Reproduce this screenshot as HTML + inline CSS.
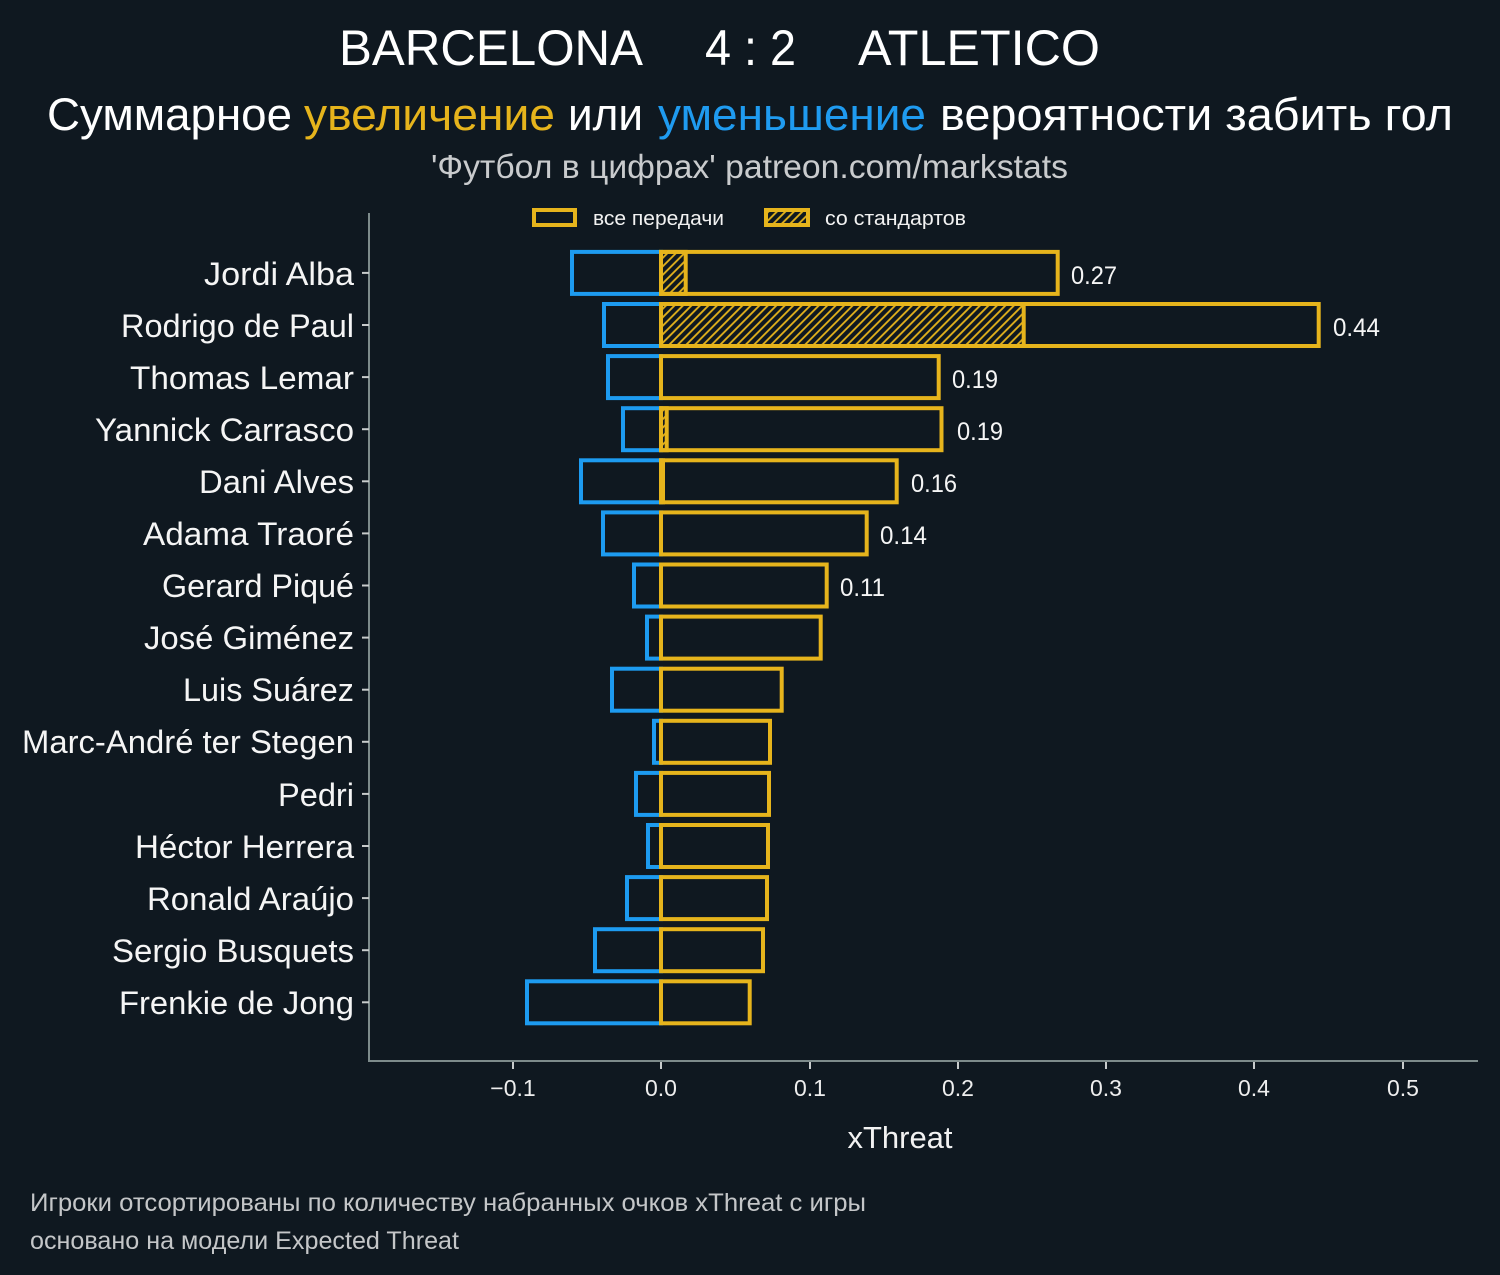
<!DOCTYPE html>
<html><head><meta charset="utf-8"><style>
html,body{margin:0;padding:0;background:#0f1820;}
svg{display:block;font-family:"Liberation Sans","Noto Sans CJK SC",sans-serif;}
</style></head><body>
<svg width="1500" height="1275" viewBox="0 0 1500 1275" xmlns="http://www.w3.org/2000/svg">
<defs>
<pattern id="h" patternUnits="userSpaceOnUse" width="6" height="6" patternTransform="rotate(45)">
<line x1="3" y1="-1" x2="3" y2="7" stroke="#e6b41c" stroke-width="1.8"/>
</pattern>
</defs>
<rect width="1500" height="1275" fill="#0f1820"/>

<!-- titles -->
<text x="339" y="65" font-size="50" fill="#ffffff" textLength="304" lengthAdjust="spacingAndGlyphs">BARCELONA</text>
<text x="705" y="65" font-size="50" fill="#ffffff" textLength="91" lengthAdjust="spacingAndGlyphs">4 : 2</text>
<text x="858" y="65" font-size="50" fill="#ffffff" textLength="242" lengthAdjust="spacingAndGlyphs">ATLETICO</text>

<text x="47" y="130" font-size="45" fill="#ffffff" textLength="245" lengthAdjust="spacingAndGlyphs">Суммарное</text>
<text x="304" y="130" font-size="45" fill="#e6b41c" textLength="251" lengthAdjust="spacingAndGlyphs">увеличение</text>
<text x="568" y="130" font-size="45" fill="#ffffff" textLength="75" lengthAdjust="spacingAndGlyphs">или</text>
<text x="658" y="130" font-size="45" fill="#1f9bf0" textLength="268" lengthAdjust="spacingAndGlyphs">уменьшение</text>
<text x="940" y="130" font-size="45" fill="#ffffff" textLength="513" lengthAdjust="spacingAndGlyphs">вероятности забить гол</text>

<text x="431" y="178" font-size="33" fill="#c9cbcd" textLength="637" lengthAdjust="spacingAndGlyphs">'Футбол в цифрах' patreon.com/markstats</text>

<!-- legend -->
<rect x="534" y="210" width="41" height="15" fill="none" stroke="#e6b41c" stroke-width="4"/>
<text x="593" y="225" font-size="20" fill="#f2f2f2" textLength="131" lengthAdjust="spacingAndGlyphs">все передачи</text>
<rect x="766" y="210" width="42" height="15" fill="url(#h)" stroke="#e6b41c" stroke-width="4"/>
<text x="825" y="225" font-size="20" fill="#f2f2f2" textLength="141" lengthAdjust="spacingAndGlyphs">со стандартов</text>

<!-- axes -->
<line x1="369" y1="213" x2="369" y2="1062" stroke="#7d8b8b" stroke-width="2"/>
<line x1="368" y1="1061" x2="1478" y2="1061" stroke="#7d8b8b" stroke-width="2"/>

<g stroke="#c8cccc" stroke-width="2">
<line x1="513" y1="1062" x2="513" y2="1069"/>
<line x1="661" y1="1062" x2="661" y2="1069"/>
<line x1="810" y1="1062" x2="810" y2="1069"/>
<line x1="958" y1="1062" x2="958" y2="1069"/>
<line x1="1106" y1="1062" x2="1106" y2="1069"/>
<line x1="1254" y1="1062" x2="1254" y2="1069"/>
<line x1="1403" y1="1062" x2="1403" y2="1069"/>
</g>
<g font-size="23" fill="#eeeeee" text-anchor="middle">
<text x="513" y="1096">−0.1</text>
<text x="661" y="1096">0.0</text>
<text x="810" y="1096">0.1</text>
<text x="958" y="1096">0.2</text>
<text x="1106" y="1096">0.3</text>
<text x="1254" y="1096">0.4</text>
<text x="1403" y="1096">0.5</text>
</g>
<text x="900" y="1148" font-size="31" fill="#f2f2f2" text-anchor="middle">xThreat</text>

<!-- y ticks -->
<g stroke="#c8cccc" stroke-width="2">
<line x1="362" y1="272.9" x2="369" y2="272.9"/>
<line x1="362" y1="325.0" x2="369" y2="325.0"/>
<line x1="362" y1="377.1" x2="369" y2="377.1"/>
<line x1="362" y1="429.2" x2="369" y2="429.2"/>
<line x1="362" y1="481.3" x2="369" y2="481.3"/>
<line x1="362" y1="533.4" x2="369" y2="533.4"/>
<line x1="362" y1="585.5" x2="369" y2="585.5"/>
<line x1="362" y1="637.6" x2="369" y2="637.6"/>
<line x1="362" y1="689.7" x2="369" y2="689.7"/>
<line x1="362" y1="741.8" x2="369" y2="741.8"/>
<line x1="362" y1="793.9" x2="369" y2="793.9"/>
<line x1="362" y1="846.0" x2="369" y2="846.0"/>
<line x1="362" y1="898.1" x2="369" y2="898.1"/>
<line x1="362" y1="950.2" x2="369" y2="950.2"/>
<line x1="362" y1="1002.3" x2="369" y2="1002.3"/>
</g>

<g font-size="32" fill="#f5f5f5">
<text x="204" y="285" textLength="150" lengthAdjust="spacingAndGlyphs">Jordi Alba</text>
<text x="121" y="337" textLength="233" lengthAdjust="spacingAndGlyphs">Rodrigo de Paul</text>
<text x="130" y="389" textLength="224" lengthAdjust="spacingAndGlyphs">Thomas Lemar</text>
<text x="95" y="441" textLength="259" lengthAdjust="spacingAndGlyphs">Yannick Carrasco</text>
<text x="199" y="493" textLength="155" lengthAdjust="spacingAndGlyphs">Dani Alves</text>
<text x="143" y="545" textLength="211" lengthAdjust="spacingAndGlyphs">Adama Traoré</text>
<text x="162" y="597" textLength="192" lengthAdjust="spacingAndGlyphs">Gerard Piqué</text>
<text x="144" y="649" textLength="210" lengthAdjust="spacingAndGlyphs">José Giménez</text>
<text x="183" y="701" textLength="171" lengthAdjust="spacingAndGlyphs">Luis Suárez</text>
<text x="22" y="753" textLength="332" lengthAdjust="spacingAndGlyphs">Marc-André ter Stegen</text>
<text x="278" y="806" textLength="76" lengthAdjust="spacingAndGlyphs">Pedri</text>
<text x="135" y="858" textLength="219" lengthAdjust="spacingAndGlyphs">Héctor Herrera</text>
<text x="147" y="910" textLength="207" lengthAdjust="spacingAndGlyphs">Ronald Araújo</text>
<text x="112" y="962" textLength="242" lengthAdjust="spacingAndGlyphs">Sergio Busquets</text>
<text x="119" y="1014" textLength="235" lengthAdjust="spacingAndGlyphs">Frenkie de Jong</text>
</g>

<!-- blue bars -->
<g fill="none" stroke="#1d9bf0" stroke-width="4">
<rect x="572" y="251.9" width="89" height="42"/>
<rect x="604" y="304.0" width="57" height="42"/>
<rect x="608" y="356.1" width="53" height="42"/>
<rect x="623" y="408.2" width="38" height="42"/>
<rect x="581" y="460.3" width="80" height="42"/>
<rect x="603" y="512.4" width="58" height="42"/>
<rect x="634" y="564.5" width="27" height="42"/>
<rect x="647" y="616.6" width="14" height="42"/>
<rect x="612" y="668.7" width="49" height="42"/>
<rect x="654" y="720.8" width="7" height="42"/>
<rect x="636" y="772.9" width="25" height="42"/>
<rect x="648" y="825.0" width="13" height="42"/>
<rect x="627" y="877.1" width="34" height="42"/>
<rect x="595" y="929.2" width="66" height="42"/>
<rect x="527" y="981.3" width="134" height="42"/>
</g>

<!-- hatch bars -->
<g fill="url(#h)" stroke="#e6b41c" stroke-width="4">
<rect x="661" y="251.9" width="24.7" height="42"/>
<rect x="661" y="304.0" width="362.7" height="42"/>
<rect x="661" y="408.2" width="5.7" height="42"/>
<rect x="661" y="460.3" width="2" height="42"/>
</g>

<!-- yellow bars -->
<g fill="none" stroke="#e6b41c" stroke-width="4">
<rect x="661" y="251.9" width="396.7" height="42"/>
<rect x="661" y="304.0" width="657.7" height="42"/>
<rect x="661" y="356.1" width="277.7" height="42"/>
<rect x="661" y="408.2" width="280.5" height="42"/>
<rect x="661" y="460.3" width="235.7" height="42"/>
<rect x="661" y="512.4" width="205.7" height="42"/>
<rect x="661" y="564.5" width="165.7" height="42"/>
<rect x="661" y="616.6" width="159.7" height="42"/>
<rect x="661" y="668.7" width="120.7" height="42"/>
<rect x="661" y="720.8" width="109" height="42"/>
<rect x="661" y="772.9" width="108" height="42"/>
<rect x="661" y="825.0" width="107" height="42"/>
<rect x="661" y="877.1" width="106" height="42"/>
<rect x="661" y="929.2" width="102" height="42"/>
<rect x="661" y="981.3" width="88.7" height="42"/>
</g>

<!-- value labels -->
<g font-size="25" fill="#f5f5f5">
<text x="1071" y="284" textLength="46" lengthAdjust="spacingAndGlyphs">0.27</text>
<text x="1333" y="336" textLength="47" lengthAdjust="spacingAndGlyphs">0.44</text>
<text x="952" y="388" textLength="46" lengthAdjust="spacingAndGlyphs">0.19</text>
<text x="957" y="440" textLength="46" lengthAdjust="spacingAndGlyphs">0.19</text>
<text x="911" y="492" textLength="46" lengthAdjust="spacingAndGlyphs">0.16</text>
<text x="880" y="544" textLength="47" lengthAdjust="spacingAndGlyphs">0.14</text>
<text x="840" y="596" textLength="45" lengthAdjust="spacingAndGlyphs">0.11</text>
</g>

<!-- footer -->
<text x="30" y="1211" font-size="25" fill="#c4c6c8" textLength="836" lengthAdjust="spacingAndGlyphs">Игроки отсортированы по количеству набранных очков xThreat с игры</text>
<text x="30" y="1249" font-size="25" fill="#c4c6c8" textLength="429" lengthAdjust="spacingAndGlyphs">основано на модели Expected Threat</text>
</svg>
</body></html>
